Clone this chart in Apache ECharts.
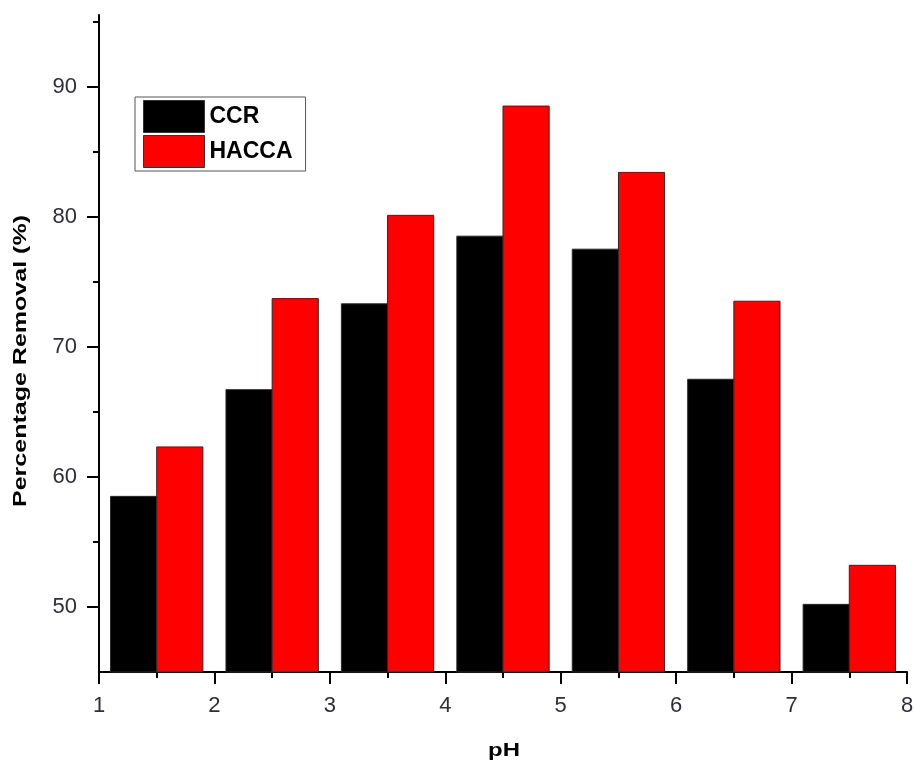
<!DOCTYPE html>
<html>
<head>
<meta charset="utf-8">
<script src="https://cdn.jsdelivr.net/npm/echarts@6/dist/echarts.min.js"></script>
<style>
  html, body { margin: 0; padding: 0; background: #fff; }
  #chart { width: 914px; height: 761px; }
</style>
</head>
<body>
<div id="chart"></div>
<script>
// pH values at which the pairs of bars are centred
const phCentres = [1.5, 2.5, 3.5, 4.5, 5.5, 6.5, 7.5];
// Percentage removal for each adsorbent
const ccrValues = [58.5, 66.7, 73.3, 78.5, 77.5, 67.5, 50.2];
const haccaValues = [62.3, 73.7, 80.1, 88.5, 83.4, 73.5, 53.2];
const seriesNames = ['CCR', 'HACCA'];
const seriesColors = ['#000000', '#ff0000'];
// Axis ticks and titles
const xMajorTicks = [1, 2, 3, 4, 5, 6, 7, 8];
const xMinorTicks = [1.5, 2.5, 3.5, 4.5, 5.5, 6.5, 7.5];
const yMajorTicks = [50, 60, 70, 80, 90];
const yMinorTicks = [55, 65, 75, 85, 95];
const xTitle = 'pH';
const yTitle = 'Percentage Removal (%)';

const Y_MIN = 45;
const Y_MAX = 95.5;
const BAR_W = 0.4;   // width of one bar in pH units

function barRenderer(offset) {
  return function (params, api) {
    const x = api.value(0);
    const v = api.value(1);
    const topLeft = api.coord([x + offset, v]);
    const base = api.coord([x + offset, Y_MIN]);
    const w = api.size([BAR_W, 0])[0];
    return {
      type: 'rect',
      shape: { x: topLeft[0], y: topLeft[1], width: w, height: base[1] - topLeft[1] },
      style: { fill: api.visual('color'), stroke: '#2a2a2a', lineWidth: 1 }
    };
  };
}

const chart = echarts.init(document.getElementById('chart'), null, { renderer: 'canvas' });

const FONT = 'Liberation Sans, Arial, sans-serif';
const tickFont = { fontFamily: FONT, fontSize: 22, color: '#2e2e38' };
const titleFont = 'bold 18px ' + FONT;

chart.setOption({
  animation: false,
  backgroundColor: '#ffffff',
  grid: { left: 99, right: 7, top: 15, bottom: 89, containLabel: false, outerBoundsMode: 'none' },
  legend: {
    left: 135, top: 97,
    orient: 'vertical',
    padding: [3, 13, 3, 8],
    itemGap: 2,
    itemWidth: 61, itemHeight: 32,
    itemTextGap: 8,
    borderColor: '#555', borderWidth: 1,
    icon: 'rect',
    textStyle: { fontFamily: FONT, fontWeight: 'bold', fontSize: 23, color: '#000' },
    data: seriesNames.map((n, i) => ({ name: n, itemStyle: { color: seriesColors[i], borderColor: '#333', borderWidth: 1 } }))
  },
  xAxis: [{
    type: 'value', min: 1, max: 8,
    axisLine: { show: true, onZero: false, lineStyle: { color: '#000', width: 2 } },
    axisTick: { show: true, customValues: xMajorTicks, length: 12, lineStyle: { color: '#000', width: 2 } },
    axisLabel: { show: true, customValues: xMajorTicks, margin: 23, ...tickFont },
    splitLine: { show: false }
  }, {
    type: 'value', min: 1, max: 8, position: 'bottom',
    axisLine: { show: false },
    axisTick: { show: true, customValues: xMinorTicks, length: 6, lineStyle: { color: '#000', width: 2 } },
    axisLabel: { show: false },
    splitLine: { show: false }
  }],
  yAxis: [{
    type: 'value', min: Y_MIN, max: Y_MAX,
    axisLine: { show: true, onZero: false, lineStyle: { color: '#000', width: 2 } },
    axisTick: { show: true, customValues: yMajorTicks, length: 12, lineStyle: { color: '#000', width: 2 } },
    axisLabel: { show: true, customValues: yMajorTicks, margin: 22, ...tickFont },
    splitLine: { show: false }
  }, {
    type: 'value', min: Y_MIN, max: Y_MAX, position: 'left',
    axisLine: { show: false },
    axisTick: { show: true, customValues: yMinorTicks, length: 6, lineStyle: { color: '#000', width: 2 } },
    axisLabel: { show: false },
    splitLine: { show: false }
  }],
  // Axis titles, drawn in a wide bold face
  graphic: [{
    type: 'text', x: 504, y: 751, scaleX: 1.33,
    style: { text: xTitle, x: 0, y: 0, align: 'center', verticalAlign: 'middle', font: titleFont, fill: '#000' }
  }, {
    type: 'text', x: 21, y: 361, rotation: Math.PI / 2, scaleX: 1.39,
    style: { text: yTitle, x: 0, y: 0, align: 'center', verticalAlign: 'middle', font: titleFont, fill: '#000' }
  }],
  series: [{
    name: seriesNames[0], type: 'custom',
    itemStyle: { color: seriesColors[0] },
    renderItem: barRenderer(-BAR_W),
    encode: { x: 0, y: 1 },
    data: phCentres.map((p, i) => [p, ccrValues[i]]),
    z: 2
  }, {
    name: seriesNames[1], type: 'custom',
    itemStyle: { color: seriesColors[1] },
    renderItem: barRenderer(0),
    encode: { x: 0, y: 1 },
    data: phCentres.map((p, i) => [p, haccaValues[i]]),
    z: 2
  }]
});
</script>
</body>
</html>
